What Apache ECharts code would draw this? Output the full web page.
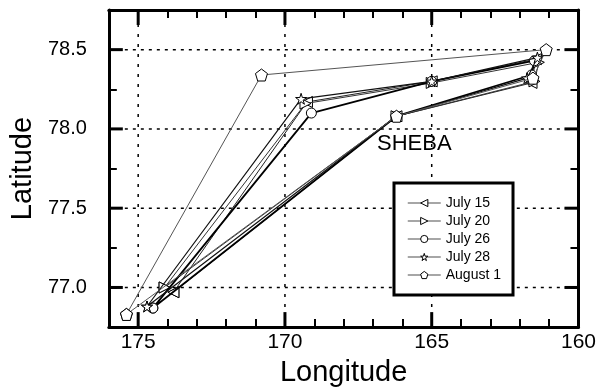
<!DOCTYPE html>
<html><head><meta charset="utf-8">
<script src="https://cdn.jsdelivr.net/npm/echarts@6/dist/echarts.min.js"></script>
<style>html,body{margin:0;padding:0;background:#fff}#c{width:599px;height:392px}</style>
</head><body><div id="c"></div>
<script>
// ---- data ----
const seriesNames = ['July 15', 'July 20', 'July 26', 'July 28', 'August 1'];
const july15 = [[173.8, 76.97], [169.25, 78.17], [165.0, 78.30], [161.45, 78.44], [161.6, 78.29], [166.2, 78.08], [173.8, 76.97]];
const july20 = [[174.1, 77.00], [169.3, 78.16], [165.0, 78.29], [161.35, 78.42], [161.5, 78.30], [166.2, 78.08], [174.1, 77.00]];
const july26 = [[174.5, 76.87], [169.1, 78.10], [165.0, 78.30], [161.5, 78.43], [161.6, 78.34], [166.2, 78.08], [174.5, 76.87]];
const july28 = [[174.7, 76.88], [169.45, 78.19], [165.0, 78.30], [161.4, 78.45], [161.75, 78.32], [166.2, 78.08], [174.7, 76.88]];
const august1 = [[175.4, 76.83], [170.8, 78.34], [161.1, 78.50], [161.55, 78.32], [166.2, 78.08], [175.4, 76.83]];
const xTickLabels = ['175', '170', '165', '160'];
const xMajorTicks = [175, 170, 165];
const yTickLabels = ['77.0', '77.5', '78.0', '78.5'];
const yMajorTicks = [77.0, 77.5, 78.0, 78.5];
const X_MIN = 160, X_MAX = 176, Y_MIN = 76.75, Y_MAX = 78.75;

const STAR = 'path://M50,0 L61,35 L98,35 L68,57 L79,91 L50,70 L21,91 L32,57 L2,35 L39,35 Z';
const PENTAGON = 'path://M50,0 L98,36 L80,95 L20,95 L2,36 Z';
const symbols = [
  { symbol: 'triangle', rotate: 90, size: 11 },
  { symbol: 'triangle', rotate: -90, size: 11 },
  { symbol: 'circle', rotate: 0, size: 10 },
  { symbol: STAR, rotate: 0, size: 11 },
  { symbol: PENTAGON, rotate: 0, size: 12 }
];
const allData = [july15, july20, july26, july28, august1];
const widths = [1, 1, 1.8, 1.2, 1];
const lineColors = ['#222', '#333', '#000', '#111', '#555'];

const FONT = 'Liberation Sans';
const chart = echarts.init(document.getElementById('c'));

function vGrid(params, api) {
  const v = api.value(0);
  const p0 = api.coord([v, Y_MIN]);
  const p1 = api.coord([v, Y_MAX]);
  return { type: 'group', children: [
    { type: 'line', shape: { x1: p0[0], y1: p0[1], x2: p1[0], y2: p1[1] }, style: { stroke: '#000', lineWidth: 1.5, lineDash: [3, 7] } },
    { type: 'line', shape: { x1: p0[0], y1: p0[1], x2: p0[0], y2: p0[1] - 15 }, style: { stroke: '#000', lineWidth: 3 } },
    { type: 'line', shape: { x1: p1[0], y1: p1[1], x2: p1[0], y2: p1[1] + 15 }, style: { stroke: '#000', lineWidth: 3 } }
  ] };
}
function hGrid(params, api) {
  const v = api.value(1);
  const p0 = api.coord([X_MAX, v]);
  const p1 = api.coord([X_MIN, v]);
  return { type: 'group', children: [
    { type: 'line', shape: { x1: p0[0], y1: p0[1], x2: p1[0], y2: p1[1] }, style: { stroke: '#000', lineWidth: 1.5, lineDash: [3, 5] } },
    { type: 'line', shape: { x1: p0[0], y1: p0[1], x2: p0[0] + 14, y2: p0[1] }, style: { stroke: '#000', lineWidth: 3 } },
    { type: 'line', shape: { x1: p1[0], y1: p1[1], x2: p1[0] - 14, y2: p1[1] }, style: { stroke: '#000', lineWidth: 3 } }
  ] };
}

const baseX = {
  type: 'value', min: X_MIN, max: X_MAX, interval: 1, inverse: true,
  axisLine: { show: true, onZero: false, lineStyle: { color: '#000', width: 3 } },
  axisTick: { show: true, inside: true, length: 8, lineStyle: { color: '#000', width: 2 } },
  splitLine: { show: false }
};
const baseY = {
  type: 'value', min: Y_MIN, max: Y_MAX, interval: 0.25,
  axisLine: { show: true, onZero: false, lineStyle: { color: '#000', width: 3 } },
  axisTick: { show: true, inside: true, length: 8, lineStyle: { color: '#000', width: 2 } },
  splitLine: { show: false }
};

const series = [
  { type: 'custom', name: 'vgrid', xAxisIndex: 0, yAxisIndex: 0, silent: true, z: 1,
    data: xMajorTicks.map(v => [v, Y_MIN]), renderItem: vGrid },
  { type: 'custom', name: 'hgrid', xAxisIndex: 0, yAxisIndex: 0, silent: true, z: 1,
    data: yMajorTicks.map(v => [X_MIN, v]), renderItem: hGrid }
];
seriesNames.forEach((n, i) => {
  series.push({
    type: 'line', name: n, data: allData[i], xAxisIndex: 0, yAxisIndex: 0,
    symbol: symbols[i].symbol, symbolRotate: symbols[i].rotate, symbolSize: symbols[i].size,
    showAllSymbol: true, animation: false, z: 3 + i,
    lineStyle: { color: lineColors[i], width: widths[i] },
    itemStyle: { color: '#fff', borderColor: '#000', borderWidth: 1 }
  });
});

chart.setOption({
  animation: false,
  backgroundColor: '#fff',
  grid: { left: 103, right: 16, top: 10, bottom: 64 },
  xAxis: [
    Object.assign({}, baseX, {
      position: 'bottom',
      name: 'Longitude', nameLocation: 'middle', nameGap: 28,
      nameTextStyle: { fontFamily: FONT, fontSize: 29, color: '#000' },
      axisLabel: { show: true, margin: 5, fontFamily: FONT, fontSize: 21, color: '#000',
        formatter: v => { const i = xTickLabels.indexOf(String(v)); return i >= 0 ? xTickLabels[i] : ''; } }
    }),
    Object.assign({}, baseX, { position: 'top', axisLabel: { show: false } })
  ],
  yAxis: [
    Object.assign({}, baseY, {
      position: 'left',
      name: 'Latitude', nameLocation: 'middle', nameGap: 66,
      nameTextStyle: { fontFamily: FONT, fontSize: 29, color: '#000' },
      axisLabel: { show: true, margin: 22, fontFamily: FONT, fontSize: 20, color: '#000',
        formatter: v => { const s = Number(v).toFixed(2); const i = yTickLabels.findIndex(t => Number(t).toFixed(2) === s); return i >= 0 ? yTickLabels[i] : ''; } }
    }),
    Object.assign({}, baseY, { position: 'right', axisLabel: { show: false } })
  ],
  legend: {
    data: seriesNames, orient: 'vertical', left: 394, top: 183,
    padding: [13, 12, 13, 13], itemGap: 4, itemWidth: 33, itemHeight: 9,
    backgroundColor: '#fff', borderColor: '#000', borderWidth: 3, borderRadius: 0,
    itemStyle: { color: '#fff', borderColor: '#000', borderWidth: 1 },
    lineStyle: { color: '#888', width: 1.5 },
    textStyle: { fontFamily: FONT, fontSize: 14, color: '#000' },
    z: 10
  },
  graphic: [
    { type: 'text', left: 377, top: 133, z: 20,
      style: { text: 'SHEBA', fontFamily: FONT, fontSize: 22, fill: '#000' } }
  ],
  series: series
});
</script></body></html>
